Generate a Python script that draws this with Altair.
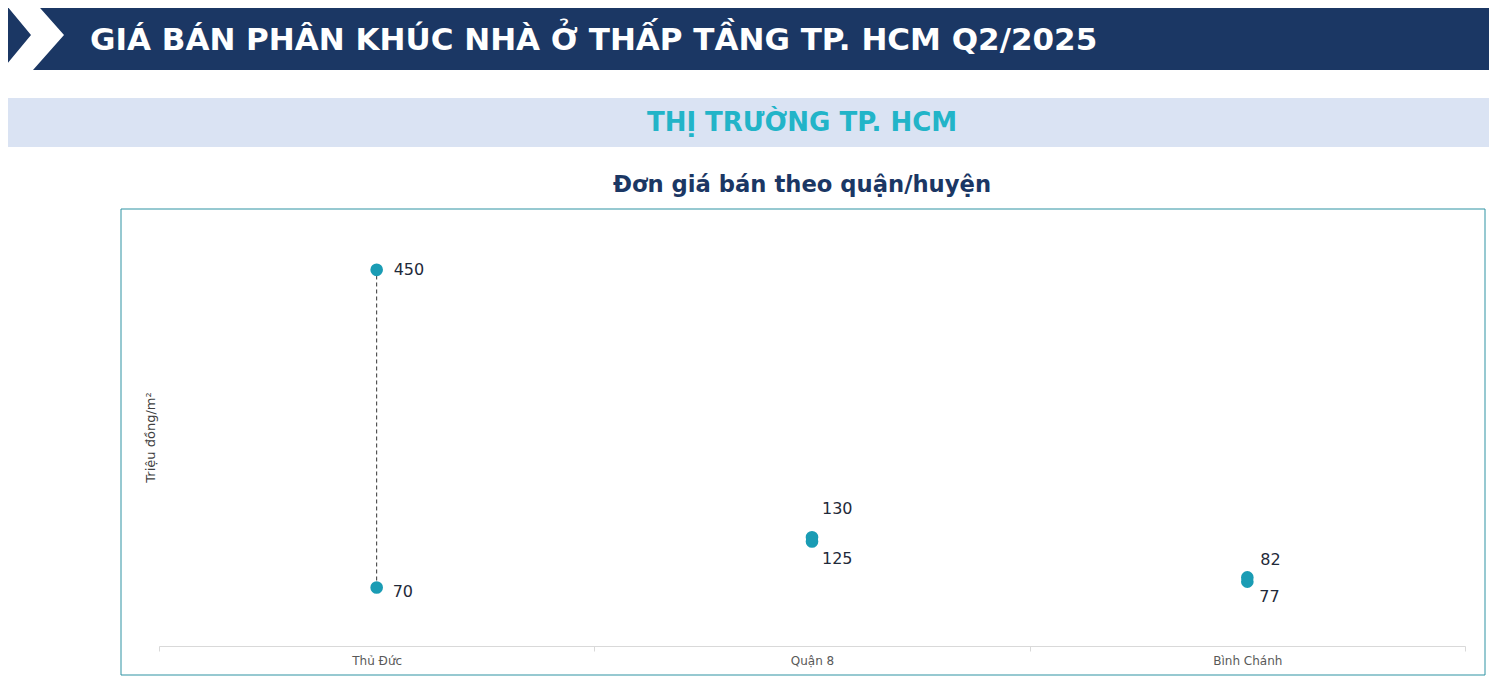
import altair as alt
import pandas as pd

# ---- data ----
districts = ["Thủ Đức", "Quận 8", "Bình Chánh"]
price_min = [70, 125, 77]
price_max = [450, 130, 82]

main_title = "GIÁ BÁN PHÂN KHÚC NHÀ Ở THẤP TẦNG TP. HCM Q2/2025"
section_title = "THỊ TRƯỜNG TP. HCM"
chart_title = "Đơn giá bán theo quận/huyện"
y_title = "Triệu đồng/m²"

df = pd.DataFrame({"district": districts, "min": price_min, "max": price_max})
one = pd.DataFrame({"k": [0]})

W, H = 1481, 668
NAVY = "#1b3764"
TEAL = "#1a9cb4"
FONT = "DejaVu Sans"

# ---- decorations ----
header = alt.Chart(one).mark_rect(color=NAVY).encode(
    x=alt.value(0), x2=alt.value(W), y=alt.value(0), y2=alt.value(62))

chevron_path = ("M-0.886,-1 L0,-1 L0.886,0 L0,1 L-0.886,1 L-0.057,0 Z")
chevron = alt.Chart(one).mark_point(
    shape=chevron_path, filled=True, fill="white", fillOpacity=1,
    strokeWidth=0, size=4900).encode(x=alt.value(25), y=alt.value(27))

header_text = alt.Chart(one).mark_text(
    text=main_title, font=FONT, fontWeight="bold", fontSize=31,
    color="white", align="left", baseline="alphabetic").encode(
    x=alt.value(82), y=alt.value(42))

band = alt.Chart(one).mark_rect(color="#dae3f3").encode(
    x=alt.value(0), x2=alt.value(W), y=alt.value(90), y2=alt.value(139))

band_text = alt.Chart(one).mark_text(
    text=section_title, font=FONT, fontWeight="bold", fontSize=26,
    color="#22b4c8", align="center", baseline="middle").encode(
    x=alt.value(794), y=alt.value(115))

title_text = alt.Chart(one).mark_text(
    text=chart_title, font=FONT, fontWeight="bold", fontSize=22.7,
    color=NAVY, align="center", baseline="middle").encode(
    x=alt.value(794), y=alt.value(177))

box = alt.Chart(one).mark_rect(
    fill="transparent", stroke="#2f93a3", strokeWidth=1).encode(
    x=alt.value(113), x2=alt.value(1477), y=alt.value(201), y2=alt.value(667))

# ---- data layers ----
xenc = alt.X(
    "district:N", sort=districts, title=None,
    scale=alt.Scale(type="band", range=[151, 1457], paddingInner=0, paddingOuter=0),
    axis=alt.Axis(offset=-(H - 638), tickBand="extent", domainColor="#d9d9d9",
                  tickColor="#d9d9d9", tickSize=5, labelColor="#595959",
                  labelFontSize=12, labelFont=FONT, labelPadding=4,
                  labelAngle=0, grid=False))

yscale = alt.Scale(domain=[0, 500], range=[638, 220])
yaxis = alt.Axis(labels=False, ticks=False, domain=False, grid=False,
                 title=y_title, titleX=142, titleY=429, titleAngle=-90,
                 titleAlign="center", titleBaseline="middle",
                 titleFont=FONT, titleFontSize=13, titleFontWeight="normal",
                 titleColor="#404040")

base = alt.Chart(df)

rule = base.mark_rule(color="#333333", strokeDash=[4, 3], strokeWidth=1).encode(
    x=xenc,
    y=alt.Y("min:Q", scale=yscale, axis=yaxis),
    y2="max:Q")

dots = base.transform_fold(["min", "max"], as_=["kind", "value"]).mark_circle(
    size=160, color=TEAL, opacity=1).encode(
    x=alt.X("district:N", sort=districts),
    y=alt.Y("value:Q"))

def label(district, field, dx, dy):
    return base.transform_filter(alt.datum.district == district).mark_text(
        font=FONT, fontSize=16, color="#1f2a3a", align="left",
        baseline="middle", dx=dx, dy=dy).encode(
        x=alt.X("district:N", sort=districts),
        y=alt.Y(f"{field}:Q"),
        text=alt.Text(f"{field}:Q"))

labels = [
    label("Thủ Đức", "max", 17, 0),
    label("Thủ Đức", "min", 16, 5),
    label("Quận 8", "max", 10, -28),
    label("Quận 8", "min", 10, 17),
    label("Bình Chánh", "max", 13, -17),
    label("Bình Chánh", "min", 12, 15),
]

chart = alt.layer(
    header, chevron, header_text, band, band_text, title_text, box,
    rule, dots, *labels
).properties(
    width=W, height=H, autosize="none", padding=0
).configure_view(strokeWidth=0)

chart.save("out.html", embed_options={"renderer": "svg", "actions": False})
